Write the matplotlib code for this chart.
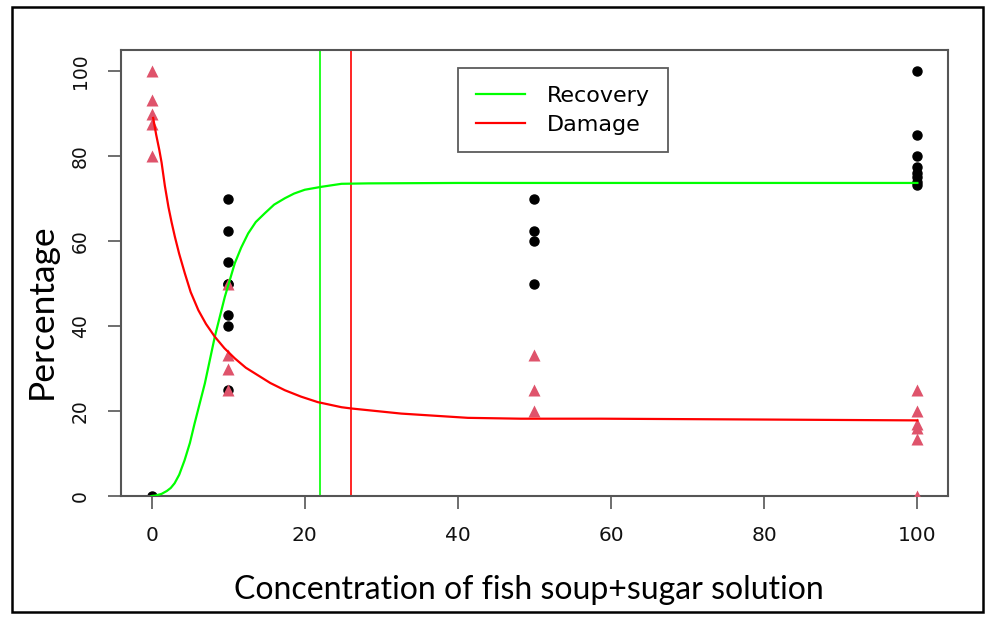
import matplotlib
matplotlib.use("Agg")
import matplotlib.pyplot as plt
from matplotlib.patches import Rectangle

rec_x = [0, 10, 10, 10, 10, 10, 10, 10, 10,
         50, 50, 50, 50,
         100, 100, 100, 100, 100, 100, 100, 100]
rec_y = [0, 70, 62.5, 55, 50, 50, 42.5, 40, 25,
         70, 62.5, 60, 50,
         100, 85, 80, 77.5, 76, 75, 74, 73.3]

dam_x = [0, 0, 0, 0, 0,
         10, 10, 10, 10,
         50, 50, 50,
         100, 100, 100, 100, 100, 100]
dam_y = [100, 93.3, 90, 87.5, 80,
         50, 33.3, 30, 25,
         33.3, 25, 20,
         25, 20, 17, 16, 13.5, 0]

# fitted curves (traced)
rec_curve_x = [0, 0.5, 1.3, 2.0, 2.5, 3.0, 3.6, 4.3, 5.0, 5.6, 6.95, 7.6, 8.25,
               9.56, 10.86, 11.7, 12.6, 13.6, 14.8, 16.0, 17.4, 18.6, 20.0,
               22.2, 24.8, 28.3, 40, 60, 80, 100]
rec_curve_y = [0, 0.1, 0.5, 1.2, 1.9, 3.0, 5.0, 8.4, 12.5, 17, 26.5, 32, 37.5,
               46.9, 54.8, 58.5, 61.8, 64.5, 66.6, 68.6, 70.1, 71.2, 72.1,
               72.8, 73.5, 73.6, 73.7, 73.7, 73.7, 73.7]

dam_curve_x = [0.2, 0.6, 1.0, 1.3, 1.73, 2.2, 2.6, 3.04, 3.6, 4.34, 5.1, 6.1,
               7.1, 8.25, 9.5, 10.86, 12.3, 13.9, 15.5, 17.4, 19.5, 21.7,
               24.8, 26.1, 32.6, 41.3, 48.2, 58.7, 80, 100]
dam_curve_y = [89, 85, 81.5, 78.5, 73, 68, 64.5, 61, 57, 52.4, 48, 43.75,
               40.5, 37.5, 34.8, 32.4, 30.2, 28.4, 26.6, 24.9, 23.4, 22.1,
               20.9, 20.6, 19.4, 18.4, 18.2, 18.2, 18.0, 17.8]

rec_cut = 22
dam_cut = 26

x_ticks = [0, 20, 40, 60, 80, 100]
y_ticks = [0, 20, 40, 60, 80, 100]

W, H = 987, 618
fig = plt.figure(figsize=(W / 100, H / 100), dpi=100)
ax = fig.add_axes([121 / W, 1 - 496 / H, 827 / W, 446 / H])

ax.plot(rec_x, rec_y, "o", color="black", ms=6.5, zorder=2)
ax.plot(dam_x, dam_y, "^", color="#DF536B", ms=9, mec="none", zorder=3)
ax.plot(rec_curve_x, rec_curve_y, color="#00FF00", lw=1.6, label="Recovery", zorder=4)
ax.plot(dam_curve_x, dam_curve_y, color="#FF0000", lw=1.6, label="Damage", zorder=4)
ax.axvline(rec_cut, color="#00FF00", lw=1.2, zorder=1)
ax.axvline(dam_cut, color="#FF0000", lw=1.2, zorder=1)

ax.set_xlim(-4, 104)
ax.set_ylim(0, 105)
ax.set_xticks(x_ticks)
ax.set_yticks(y_ticks)
for s in ax.spines.values():
    s.set_color("#555555")
    s.set_linewidth(1.5)
ax.tick_params(direction="out", length=9.5, width=1.2, color="#555555",
               labelsize=14.5, labelcolor="#111111")
ax.tick_params(axis="x", pad=12)
ax.tick_params(axis="y", pad=13, labelsize=13.5)
for t in ax.get_yticklabels():
    t.set_rotation(90)
    t.set_va("center")

leg = ax.legend(loc="upper left", bbox_to_anchor=(0.4075, 0.96), borderaxespad=0,
                fontsize=16, frameon=True, fancybox=False, borderpad=0.8,
                handlelength=2.2, handletextpad=1.0, labelspacing=0.4)
leg.get_frame().set_edgecolor("#333333")
leg.get_frame().set_linewidth(1.3)

lab_font = ["Lato", "DejaVu Sans"]
fig.text(529 / W, 1 - 590 / H, "Concentration of fish soup+sugar solution",
         ha="center", va="center", fontsize=23, family=lab_font)
fig.text(42 / W, 1 - 311 / H, "Percentage", rotation=90,
         ha="center", va="center", fontsize=25.5, family=lab_font)

fig.patches.append(Rectangle((12 / W, 1 - 612 / H), 971 / W, 605 / H,
                             transform=fig.transFigure, fill=False,
                             edgecolor="black", lw=1.8))

fig.savefig("out.png", dpi=100)
